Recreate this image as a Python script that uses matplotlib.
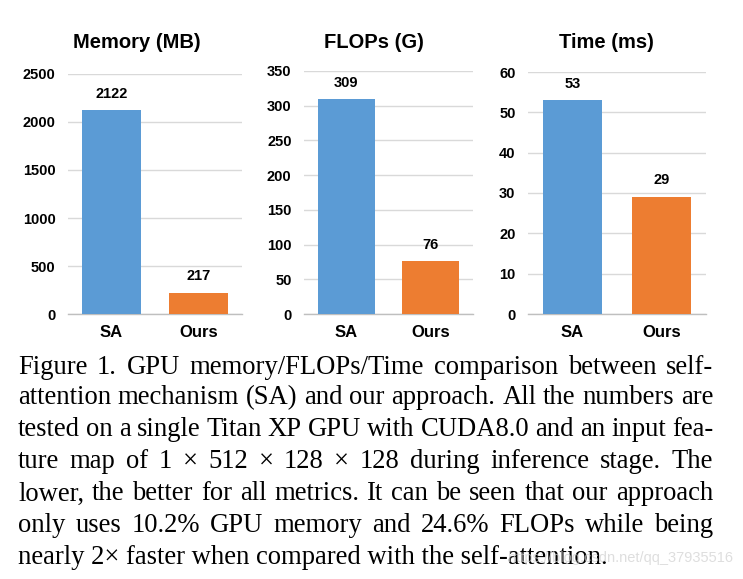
import matplotlib
matplotlib.use("Agg")
import matplotlib.pyplot as plt

plt.rcParams["font.family"] = ["Liberation Sans", "DejaVu Sans"]

# data
methods = ["SA", "Ours"]
memory_mb = [2122, 217]
flops_g = [309, 76]
time_ms = [53, 29]

titles = ["Memory (MB)", "FLOPs (G)", "Time (ms)"]
yticks = [[0, 500, 1000, 1500, 2000, 2500],
          [0, 50, 100, 150, 200, 250, 300, 350],
          [0, 10, 20, 30, 40, 50, 60]]

caption_lines = [
    "Figure 1. GPU memory/FLOPs/Time comparison between self-",
    "attention mechanism (SA) and our approach. All the numbers are",
    "tested on a single Titan XP GPU with CUDA8.0 and an input fea-",
    "ture map of 1 \u00d7 512 \u00d7 128 \u00d7 128 during inference stage.  The",
    "lower, the better for all metrics. It can be seen that our approach",
    "only uses 10.2% GPU memory and 24.6% FLOPs while being",
    "nearly 2\u00d7 faster when compared with the self-attention.",
]

W, H = 743, 579
fig = plt.figure(figsize=(W / 100, H / 100), dpi=100)
colors = ["#5B9BD5", "#ED7D31"]

# axes boxes in pixels: left, right, top (y of max tick), bottom (y of zero)
boxes = [(68, 242, 74, 314), (304, 473, 71, 314), (528, 706, 72, 314)]
title_pos = [(137, 42), (374, 42), (606, 42)]
values = [memory_mb, flops_g, time_ms]

for i in range(3):
    l, r, t, b = boxes[i]
    ax = fig.add_axes([l / W, 1 - b / H, (r - l) / W, (b - t) / H])
    x = range(len(methods))
    ax.bar(x, values[i], width=0.67, color=colors, zorder=3)
    for xi, v in zip(x, values[i]):
        ax.annotate(str(v), (xi, v), xytext=(0, 7), textcoords="offset points",
                    ha="center", va="bottom", fontsize=10.5, fontweight="bold")
    ax.set_xlim(-0.5, 1.5)
    ax.set_ylim(0, yticks[i][-1])
    ax.set_yticks(yticks[i])
    ax.set_xticks(list(x))
    ax.set_xticklabels(methods, fontsize=12, fontweight="bold")
    for lab in ax.get_yticklabels():
        lab.set_fontweight("bold")
        lab.set_fontsize(10.5)
    ax.tick_params(axis="y", length=0, pad=9)
    ax.tick_params(axis="x", length=0, pad=8)
    ax.yaxis.grid(True, color="#D9D9D9", lw=1, zorder=0)
    ax.set_axisbelow(True)
    for s in ["top", "right", "left"]:
        ax.spines[s].set_visible(False)
    ax.spines["bottom"].set_color("#BFBFBF")
    ax.spines["bottom"].set_linewidth(1)
    tx, ty = title_pos[i]
    fig.text(tx / W, 1 - ty / H, titles[i], ha="center", va="center",
             fontsize=14.5, fontweight="bold")

# caption, justified line by line
cap_font = dict(family=["Liberation Serif", "DejaVu Serif"], fontsize=19.2)
line_y = [367, 398, 430, 462, 494, 526, 557]
x0, x1 = 18, 713
fig.canvas.draw()
renderer = fig.canvas.get_renderer()
for k, line in enumerate(caption_lines):
    y = 1 - line_y[k] / H
    words = line.split()
    if k == len(caption_lines) - 1:
        fig.text(x0 / W, y, line, ha="left", va="center", **cap_font)
        continue
    texts = [fig.text(0, y, w_, ha="left", va="center", **cap_font) for w_ in words]
    widths = [t_.get_window_extent(renderer).width for t_ in texts]
    gap = (x1 - x0 - sum(widths)) / (len(words) - 1)
    pos = x0
    for t_, wd in zip(texts, widths):
        t_.set_x(pos / W)
        pos += wd + gap

# faint watermark of the source page
fig.text(733 / W, 1 - 558 / H, "https://blog.csdn.net/qq_37935516", ha="right",
         va="center", fontsize=10.5, color="#D0D0D0", alpha=0.7)

fig.savefig("out.png", dpi=100)
